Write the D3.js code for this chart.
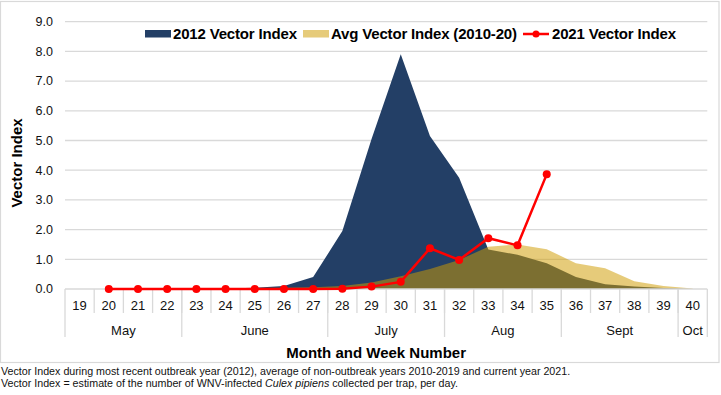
<!DOCTYPE html>
<html>
<head>
<meta charset="utf-8">
<script src="https://cdn.jsdelivr.net/npm/d3@7.9.0/dist/d3.min.js"></script>
<style>
  body { margin: 0; background: #fff; }
  svg { display: block; font-family: "Liberation Sans", Arial, sans-serif; }
</style>
</head>
<body>
<svg id="chart" width="721" height="395"></svg>
<script>
// week numbers on the x axis
const weeks = [19, 20, 21, 22, 23, 24, 25, 26, 27, 28, 29, 30, 31, 32, 33, 34, 35, 36, 37, 38, 39, 40];

// months and how many weeks fall under each
const months = ["May", "June", "July", "Aug", "Sept", "Oct"];
const monthWeekCounts = [4, 5, 4, 4, 4, 1];

// 2012 outbreak year
const vi2012 = [0, 0, 0, 0, 0.01, 0.02, 0.04, 0.1, 0.4, 1.95, 5.05, 7.9, 5.15, 3.75, 1.33, 1.15, 0.87, 0.4, 0.16, 0.08, 0.03, 0];
// average 2010-20
const viAvg = [0, 0, 0, 0.01, 0.01, 0.02, 0.03, 0.04, 0.06, 0.1, 0.22, 0.43, 0.67, 0.98, 1.42, 1.5, 1.34, 0.87, 0.7, 0.26, 0.1, 0.02];
// 2021, weeks 20 to 35
const weeks2021 = [20, 21, 22, 23, 24, 25, 26, 27, 28, 29, 30, 31, 32, 33, 34, 35];
const vi2021 = [0, 0, 0, 0, 0, 0, 0, 0, 0.01, 0.08, 0.24, 1.37, 0.98, 1.71, 1.47, 3.86];

const yTicks = [0, 1, 2, 3, 4, 5, 6, 7, 8, 9];

const svg = d3.select("#chart");
const plotL = 65, plotR = 707.3, plotT = 21.7, plotB = 289;

const x = d3.scaleBand().domain(weeks).range([plotL, plotR]).padding(0);
const y = d3.scaleLinear().domain([0, 9]).range([plotB, plotT]);
const cx = w => x(w) + x.bandwidth() / 2;

// outer frame
svg.append("rect")
  .attr("x", 0.5).attr("y", 1.5).attr("width", 718.5).attr("height", 361)
  .attr("fill", "none").attr("stroke", "#d9d9d9").attr("stroke-width", 1.2);

// gridlines
svg.append("g").selectAll("line")
  .data(yTicks.filter(d => d > 0))
  .join("line")
  .attr("x1", plotL).attr("x2", plotR)
  .attr("y1", d => y(d)).attr("y2", d => y(d))
  .attr("stroke", "#d9d9d9").attr("stroke-width", 1.3);

// y tick labels
svg.append("g").selectAll("text")
  .data(yTicks)
  .join("text")
  .attr("x", 53).attr("y", d => y(d))
  .attr("dy", "0.35em")
  .attr("text-anchor", "end")
  .attr("font-size", 12.5)
  .attr("fill", "#111")
  .text(d => d.toFixed(1));

// y title
svg.append("text")
  .attr("transform", "translate(22,163) rotate(-90)")
  .attr("text-anchor", "middle")
  .attr("font-size", 15).attr("font-weight", "bold")
  .text("Vector Index");

// areas
const area = d3.area()
  .x((d, i) => cx(weeks[i]))
  .y0(y(0))
  .y1(d => y(d));

svg.append("path")
  .datum(vi2012)
  .attr("d", area)
  .attr("fill", "#233f66");

svg.append("path")
  .datum(viAvg)
  .attr("d", area)
  .attr("fill", "#d09c00")
  .attr("fill-opacity", 0.52);

// x axis baseline and category boxes
const axisG = svg.append("g").attr("stroke", "#d9d9d9").attr("stroke-width", 1.3);
axisG.append("line")
  .attr("x1", plotL).attr("x2", plotR).attr("y1", plotB).attr("y2", plotB);

axisG.selectAll(".wk")
  .data(weeks.slice(1))
  .join("line")
  .attr("x1", d => x(d)).attr("x2", d => x(d))
  .attr("y1", plotB).attr("y2", 313);

let bounds = [0];
monthWeekCounts.forEach(c => bounds.push(bounds[bounds.length - 1] + c));
const edgeX = k => k < weeks.length ? x(weeks[k]) : plotR;

axisG.selectAll(".mo")
  .data(bounds)
  .join("line")
  .attr("x1", d => edgeX(d)).attr("x2", d => edgeX(d))
  .attr("y1", plotB).attr("y2", 337);

// week labels
svg.append("g").selectAll("text")
  .data(weeks)
  .join("text")
  .attr("x", d => cx(d)).attr("y", 305)
  .attr("dy", "0.35em")
  .attr("text-anchor", "middle")
  .attr("font-size", 13)
  .attr("fill", "#111")
  .text(d => d);

// month labels
svg.append("g").selectAll("text")
  .data(months)
  .join("text")
  .attr("x", (d, i) => (edgeX(bounds[i]) + edgeX(bounds[i + 1])) / 2)
  .attr("y", 330)
  .attr("dy", "0.35em")
  .attr("text-anchor", "middle")
  .attr("font-size", 13)
  .attr("fill", "#111")
  .text(d => d);

// x title
svg.append("text")
  .attr("x", (plotL + plotR) / 2 - 10).attr("y", 353)
  .attr("dy", "0.35em")
  .attr("text-anchor", "middle")
  .attr("font-size", 15).attr("font-weight", "bold")
  .text("Month and Week Number");

// 2021 line
const line = d3.line()
  .x((d, i) => cx(weeks2021[i]))
  .y(d => y(d));

svg.append("path")
  .datum(vi2021)
  .attr("d", line)
  .attr("fill", "none")
  .attr("stroke", "#ff0000")
  .attr("stroke-width", 2.5);

svg.append("g").selectAll("circle")
  .data(vi2021)
  .join("circle")
  .attr("cx", (d, i) => cx(weeks2021[i]))
  .attr("cy", d => y(d))
  .attr("r", 4)
  .attr("fill", "#ff0000");

// legend
const legend = svg.append("g").attr("font-size", 15).attr("font-weight", "bold");
legend.append("rect").attr("x", 145).attr("y", 30).attr("width", 26).attr("height", 7.5).attr("fill", "#233f66");
legend.append("text").attr("x", 173).attr("y", 34).attr("dy", "0.35em").attr("textLength", 124).text("2012 Vector Index");
legend.append("rect").attr("x", 303).attr("y", 30).attr("width", 26).attr("height", 7.5).attr("fill", "#d09c00").attr("fill-opacity", 0.52);
legend.append("text").attr("x", 331).attr("y", 34).attr("dy", "0.35em").attr("textLength", 186).text("Avg Vector Index (2010-20)");
legend.append("line").attr("x1", 523).attr("x2", 549).attr("y1", 34).attr("y2", 34).attr("stroke", "#ff0000").attr("stroke-width", 2.5);
legend.append("circle").attr("cx", 536).attr("cy", 34).attr("r", 3.5).attr("fill", "#ff0000");
legend.append("text").attr("x", 552).attr("y", 34).attr("dy", "0.35em").attr("textLength", 124).text("2021 Vector Index");

// footnotes
const foot = svg.append("g")
  .attr("font-family", "'Liberation Sans Narrow', 'Arial Narrow', 'Liberation Sans', sans-serif")
  .attr("font-size", 10.7).attr("fill", "#111");
foot.append("text").attr("x", 1).attr("y", 371).attr("dy", "0.35em")
  .text("Vector Index during most recent outbreak year (2012), average of non-outbreak years 2010-2019 and current year 2021.");
const f2 = foot.append("text").attr("x", 1).attr("y", 383.5).attr("dy", "0.35em");
f2.append("tspan").text("Vector Index = estimate of the number of WNV-infected ");
f2.append("tspan").attr("font-style", "italic").text("Culex pipiens");
f2.append("tspan").text(" collected per trap, per day.");
</script>
</body>
</html>
